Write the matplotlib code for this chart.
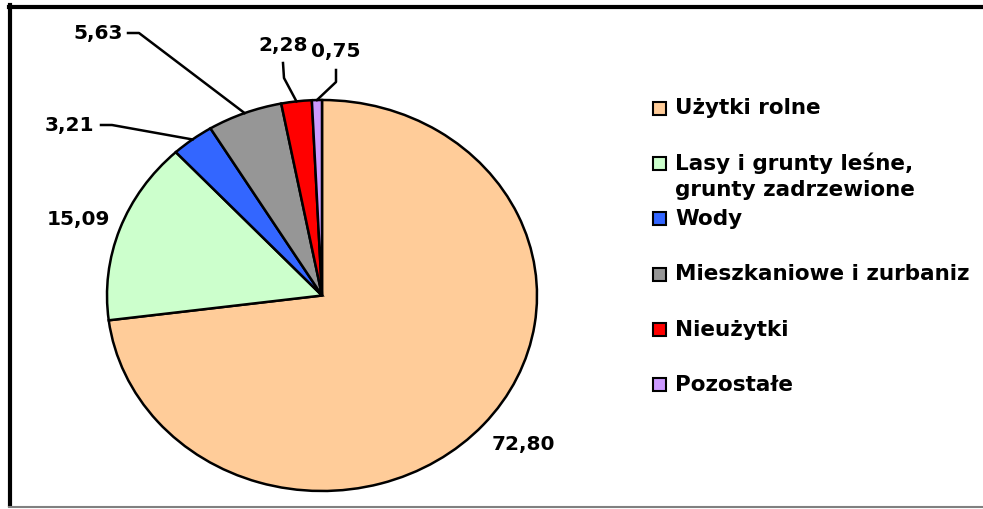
import matplotlib
matplotlib.use("Agg")
import matplotlib.pyplot as plt
import matplotlib.transforms as mtransforms
from matplotlib.patches import Rectangle
from matplotlib.lines import Line2D
import numpy as np

categories = ["Użytki rolne", "Lasy i grunty leśne,\ngrunty zadrzewione", "Wody",
              "Mieszkaniowe i zurbaniz", "Nieużytki", "Pozostałe"]
values = [72.80, 15.09, 3.21, 5.63, 2.28, 0.75]
value_labels = ["72,80", "15,09", "3,21", "5,63", "2,28", "0,75"]
colors = ["#FFCC99", "#CCFFCC", "#3366FF", "#969696", "#FF0000", "#CC99FF"]

W, H = 983, 509
fig = plt.figure(figsize=(W / 100, H / 100), dpi=100)
fig.patch.set_facecolor("white")
plt.rcParams['font.family'] = ['DejaVu Sans']

# pixel coordinate transform (origin top-left)
T = mtransforms.Affine2D().scale(1 / W, -1 / H).translate(0, 1) + fig.transFigure

# frame
fig.add_artist(Line2D([10, 10], [5, 505], color="black", lw=3.0, transform=T))
fig.add_artist(Line2D([8.5, W], [7, 7], color="black", lw=3.0, transform=T))
fig.add_artist(Line2D([8.5, W], [507, 507], color="#808080", lw=1.5, transform=T))

# pie (elliptic)
left, right, top, bottom = 107, 537, 100, 491
ax = fig.add_axes([left / W, 1 - bottom / H, (right - left) / W, (bottom - top) / H])
wedges, _ = ax.pie(values, colors=colors, startangle=90, counterclock=False,
                   wedgeprops=dict(edgecolor="black", linewidth=1.8))
ax.set_xlim(-1, 1)
ax.set_ylim(-1, 1)
ax.set_aspect("auto")
ax.axis("off")
fig.canvas.draw()

def edge_px(w):
    mid = np.deg2rad((w.theta1 + w.theta2) / 2)
    dx, dy = ax.transData.transform((np.cos(mid), np.sin(mid)))
    return dx, H - dy

fs = 14.5
label_style = {
    0: dict(xy=(523, 445), ha="center", elbow=None),
    1: dict(xy=(110, 219), ha="right", elbow=None),
    2: dict(xy=(94, 125), ha="right", elbow=[(101, 125), (112, 125)]),
    3: dict(xy=(123, 33), ha="right", elbow=[(128, 33), (139, 33)]),
    4: dict(xy=(283, 45), ha="center", elbow=[(283, 63), (284, 78)]),
    5: dict(xy=(336, 51), ha="center", elbow=[(336, 70), (336, 82)]),
}
for i, w in enumerate(wedges):
    st = label_style[i]
    fig.text(st["xy"][0], st["xy"][1], value_labels[i], transform=T, ha=st["ha"],
             va="center", fontsize=fs, fontweight="bold", color="black")
    if st["elbow"]:
        ex, ey = edge_px(w)
        xs = [p[0] for p in st["elbow"]] + [ex]
        ys = [p[1] for p in st["elbow"]] + [ey]
        fig.add_artist(Line2D(xs, ys, color="black", lw=1.8, transform=T))

# legend
row_y0, row_step = 108, 55.4
line_pitch = 27
for i, (cat, col) in enumerate(zip(categories, colors)):
    y = row_y0 + row_step * i
    fig.add_artist(Rectangle((653, y - 6.5), 13, 13, facecolor=col, edgecolor="black",
                             lw=1.5, transform=T))
    for j, line in enumerate(cat.split("\n")):
        fig.text(675, y + j * line_pitch, line, transform=T, ha="left", va="center",
                 fontsize=15.5, fontweight="bold", color="black")

fig.savefig("out.png", dpi=100)
